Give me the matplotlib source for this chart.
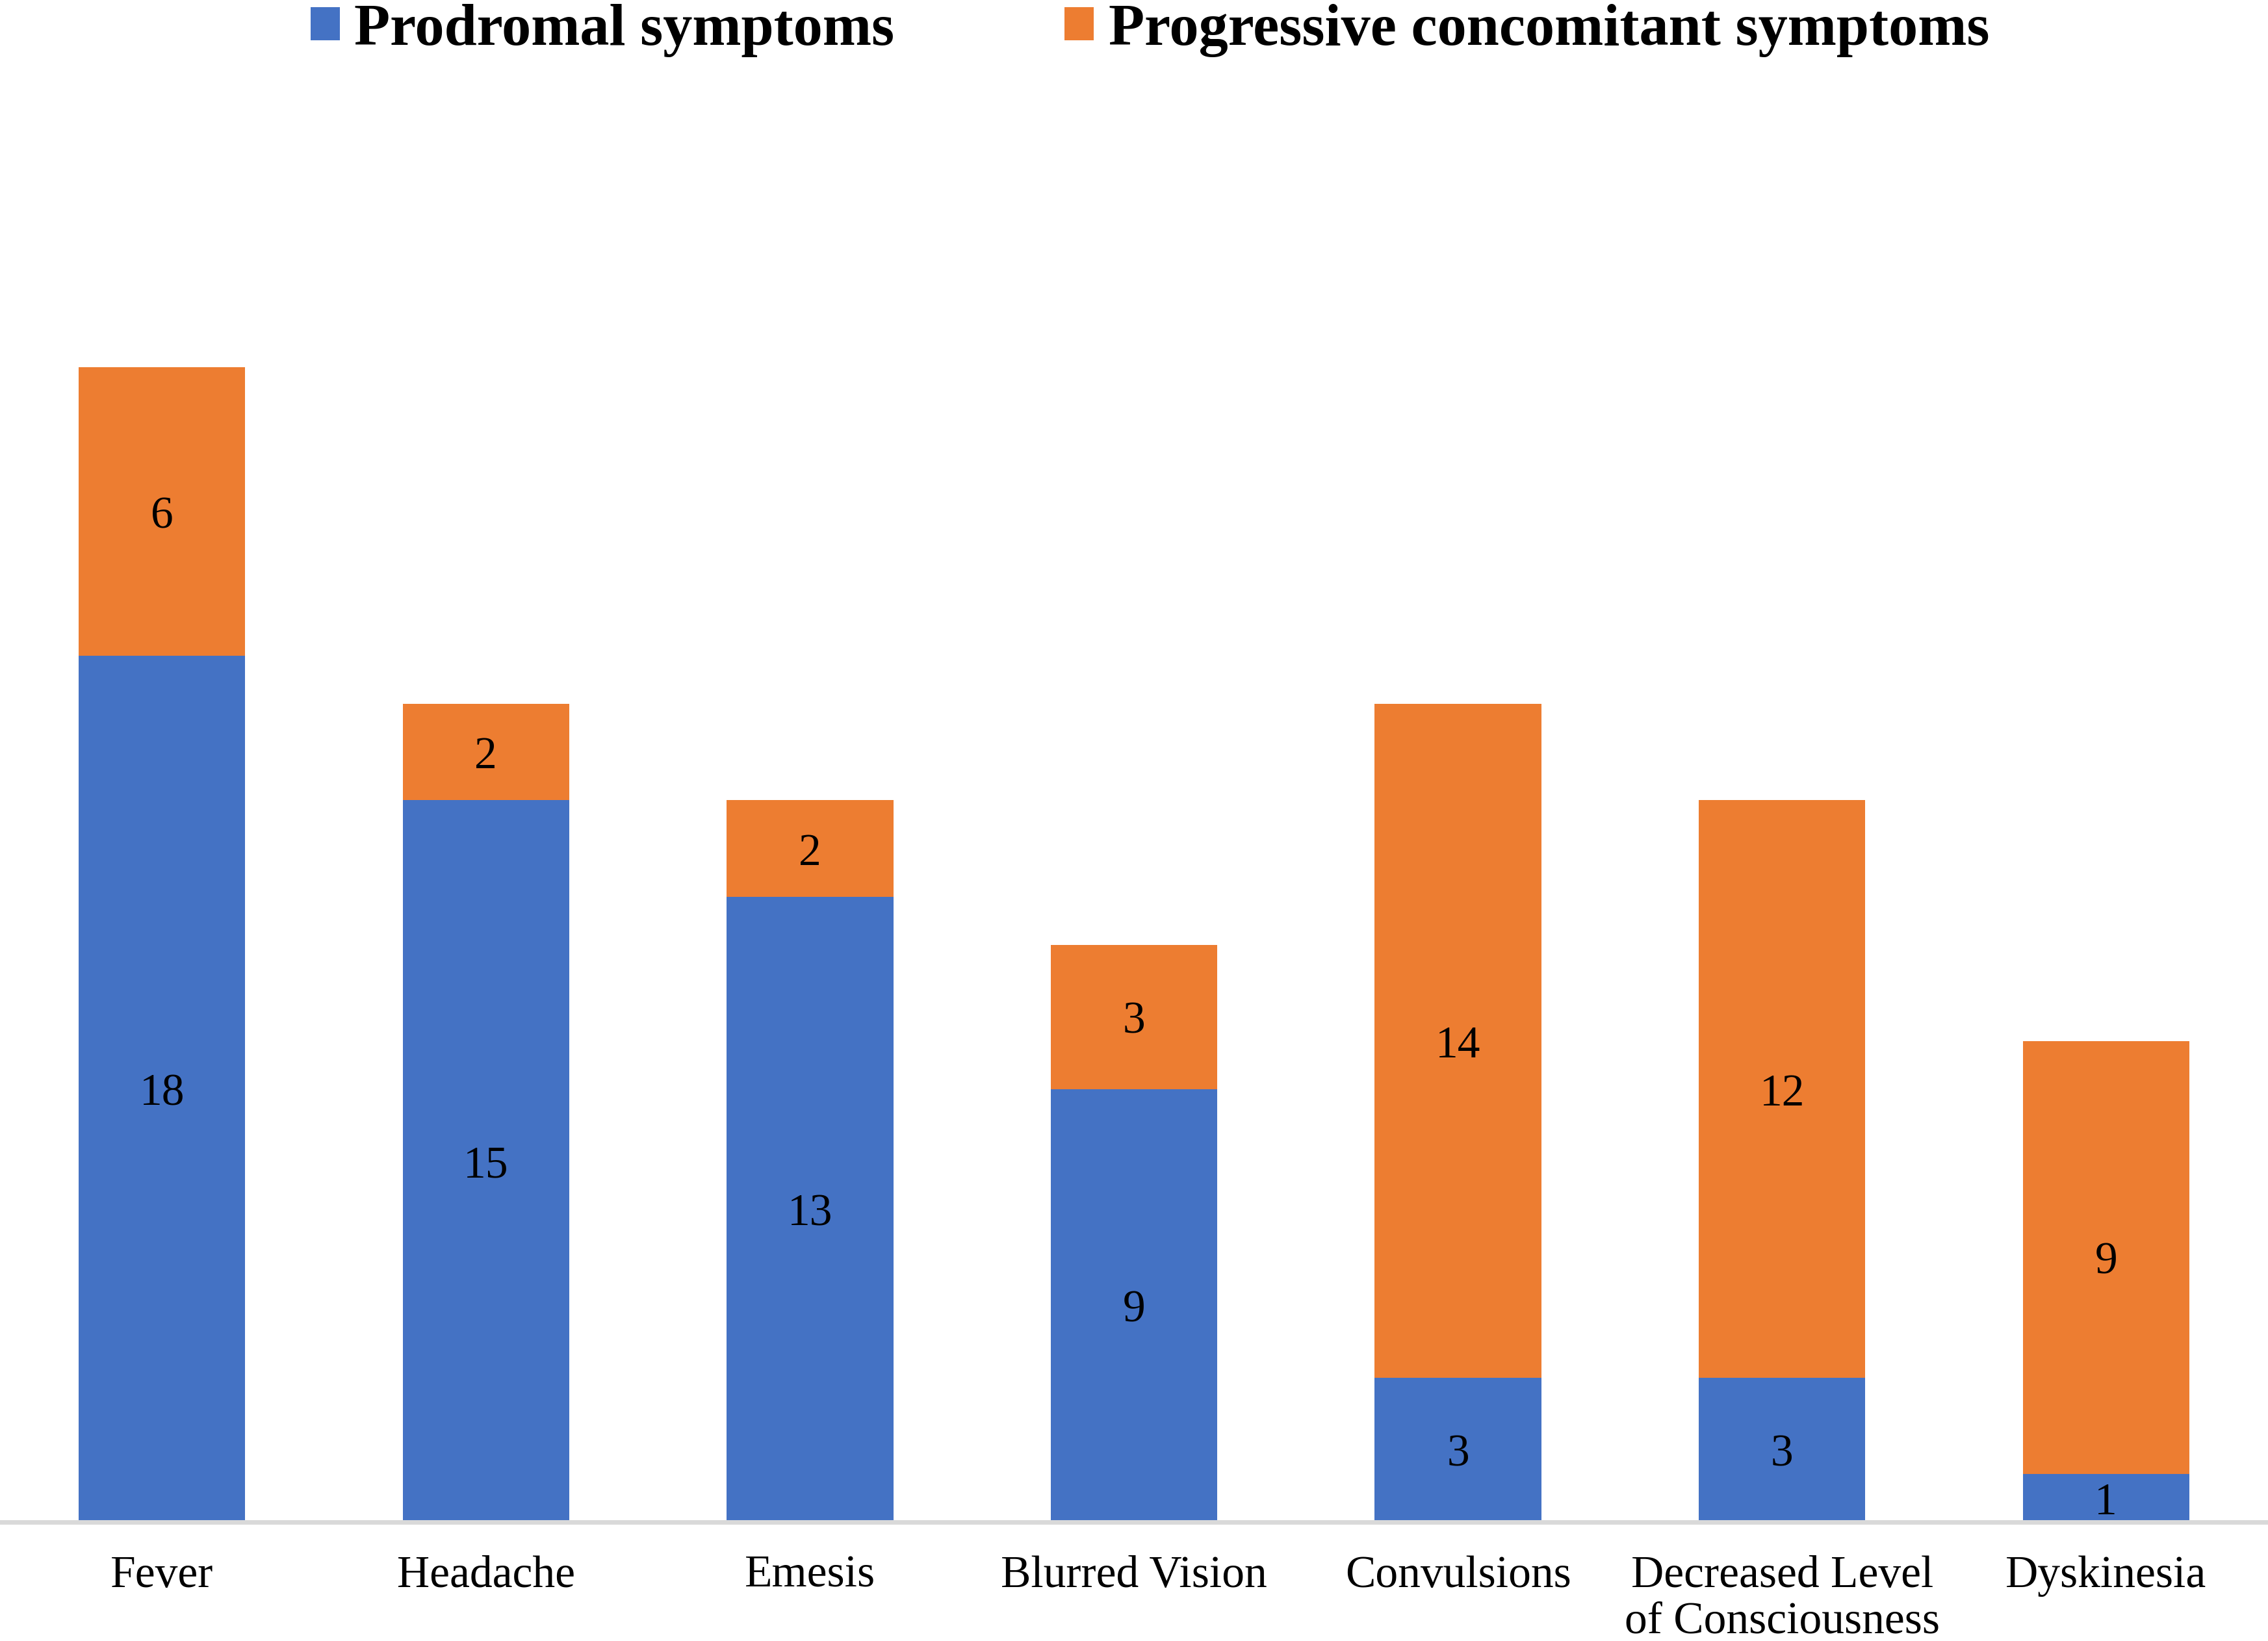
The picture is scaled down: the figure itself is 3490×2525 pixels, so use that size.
import matplotlib
matplotlib.use("Agg")
import matplotlib.pyplot as plt
import numpy as np

# Données
symptomes = ["Fever", "Headache", "Emesis", "Blurred Vision", "Convulsions",
             "Decreased Level\nof Consciousness", "Dyskinesia"]
prodromaux = [18, 15, 13, 9, 3, 3, 1]
progressifs = [6, 2, 2, 3, 14, 12, 9]

noms_series = ["Prodromal symptoms", "Progressive concomitant symptoms"]
couleurs = ["#4472C4", "#ED7D31"]

plt.rcParams["font.family"] = ["Liberation Serif", "DejaVu Serif"]

fig = plt.figure(figsize=(34.9, 25.25), dpi=100)
ax = fig.add_axes([0.0, 0.0725, 1.0, 0.8796])

x = np.arange(len(symptomes))
largeur = 0.514

b1 = ax.bar(x, prodromaux, width=largeur, color=couleurs[0], label=noms_series[0])
b2 = ax.bar(x, progressifs, width=largeur, bottom=prodromaux, color=couleurs[1],
            label=noms_series[1])

# Étiquettes au centre des segments (un peu plus bas, comme dans Excel)
etiquettes = ax.bar_label(b1, label_type="center", fontsize=50, color="black")
etiquettes += ax.bar_label(b2, label_type="center", fontsize=50, color="black")
for t in etiquettes:
    t.xyann = (0, -6)

ax.set_xlim(-0.5, len(symptomes) - 0.5)
ax.set_ylim(0, 30)
ax.set_xticks(x)
ax.set_xticklabels(symptomes, fontsize=50, linespacing=1.15)
ax.tick_params(axis="x", length=0, pad=37)
ax.set_yticks([])

for cote in ["top", "left", "right"]:
    ax.spines[cote].set_visible(False)
ax.spines["bottom"].set_color("#D9D9D9")
ax.spines["bottom"].set_linewidth(5)

# Légende en haut
fig.legend(loc="upper center", bbox_to_anchor=(0.507, 1.012), ncol=2, frameon=False,
           prop={"family": ["Liberation Serif"], "weight": "bold", "size": 65},
           handlelength=0.5, handleheight=0.5, handletextpad=0.25, columnspacing=2.9,
           borderaxespad=0)

fig.savefig("out.png", dpi=100)
